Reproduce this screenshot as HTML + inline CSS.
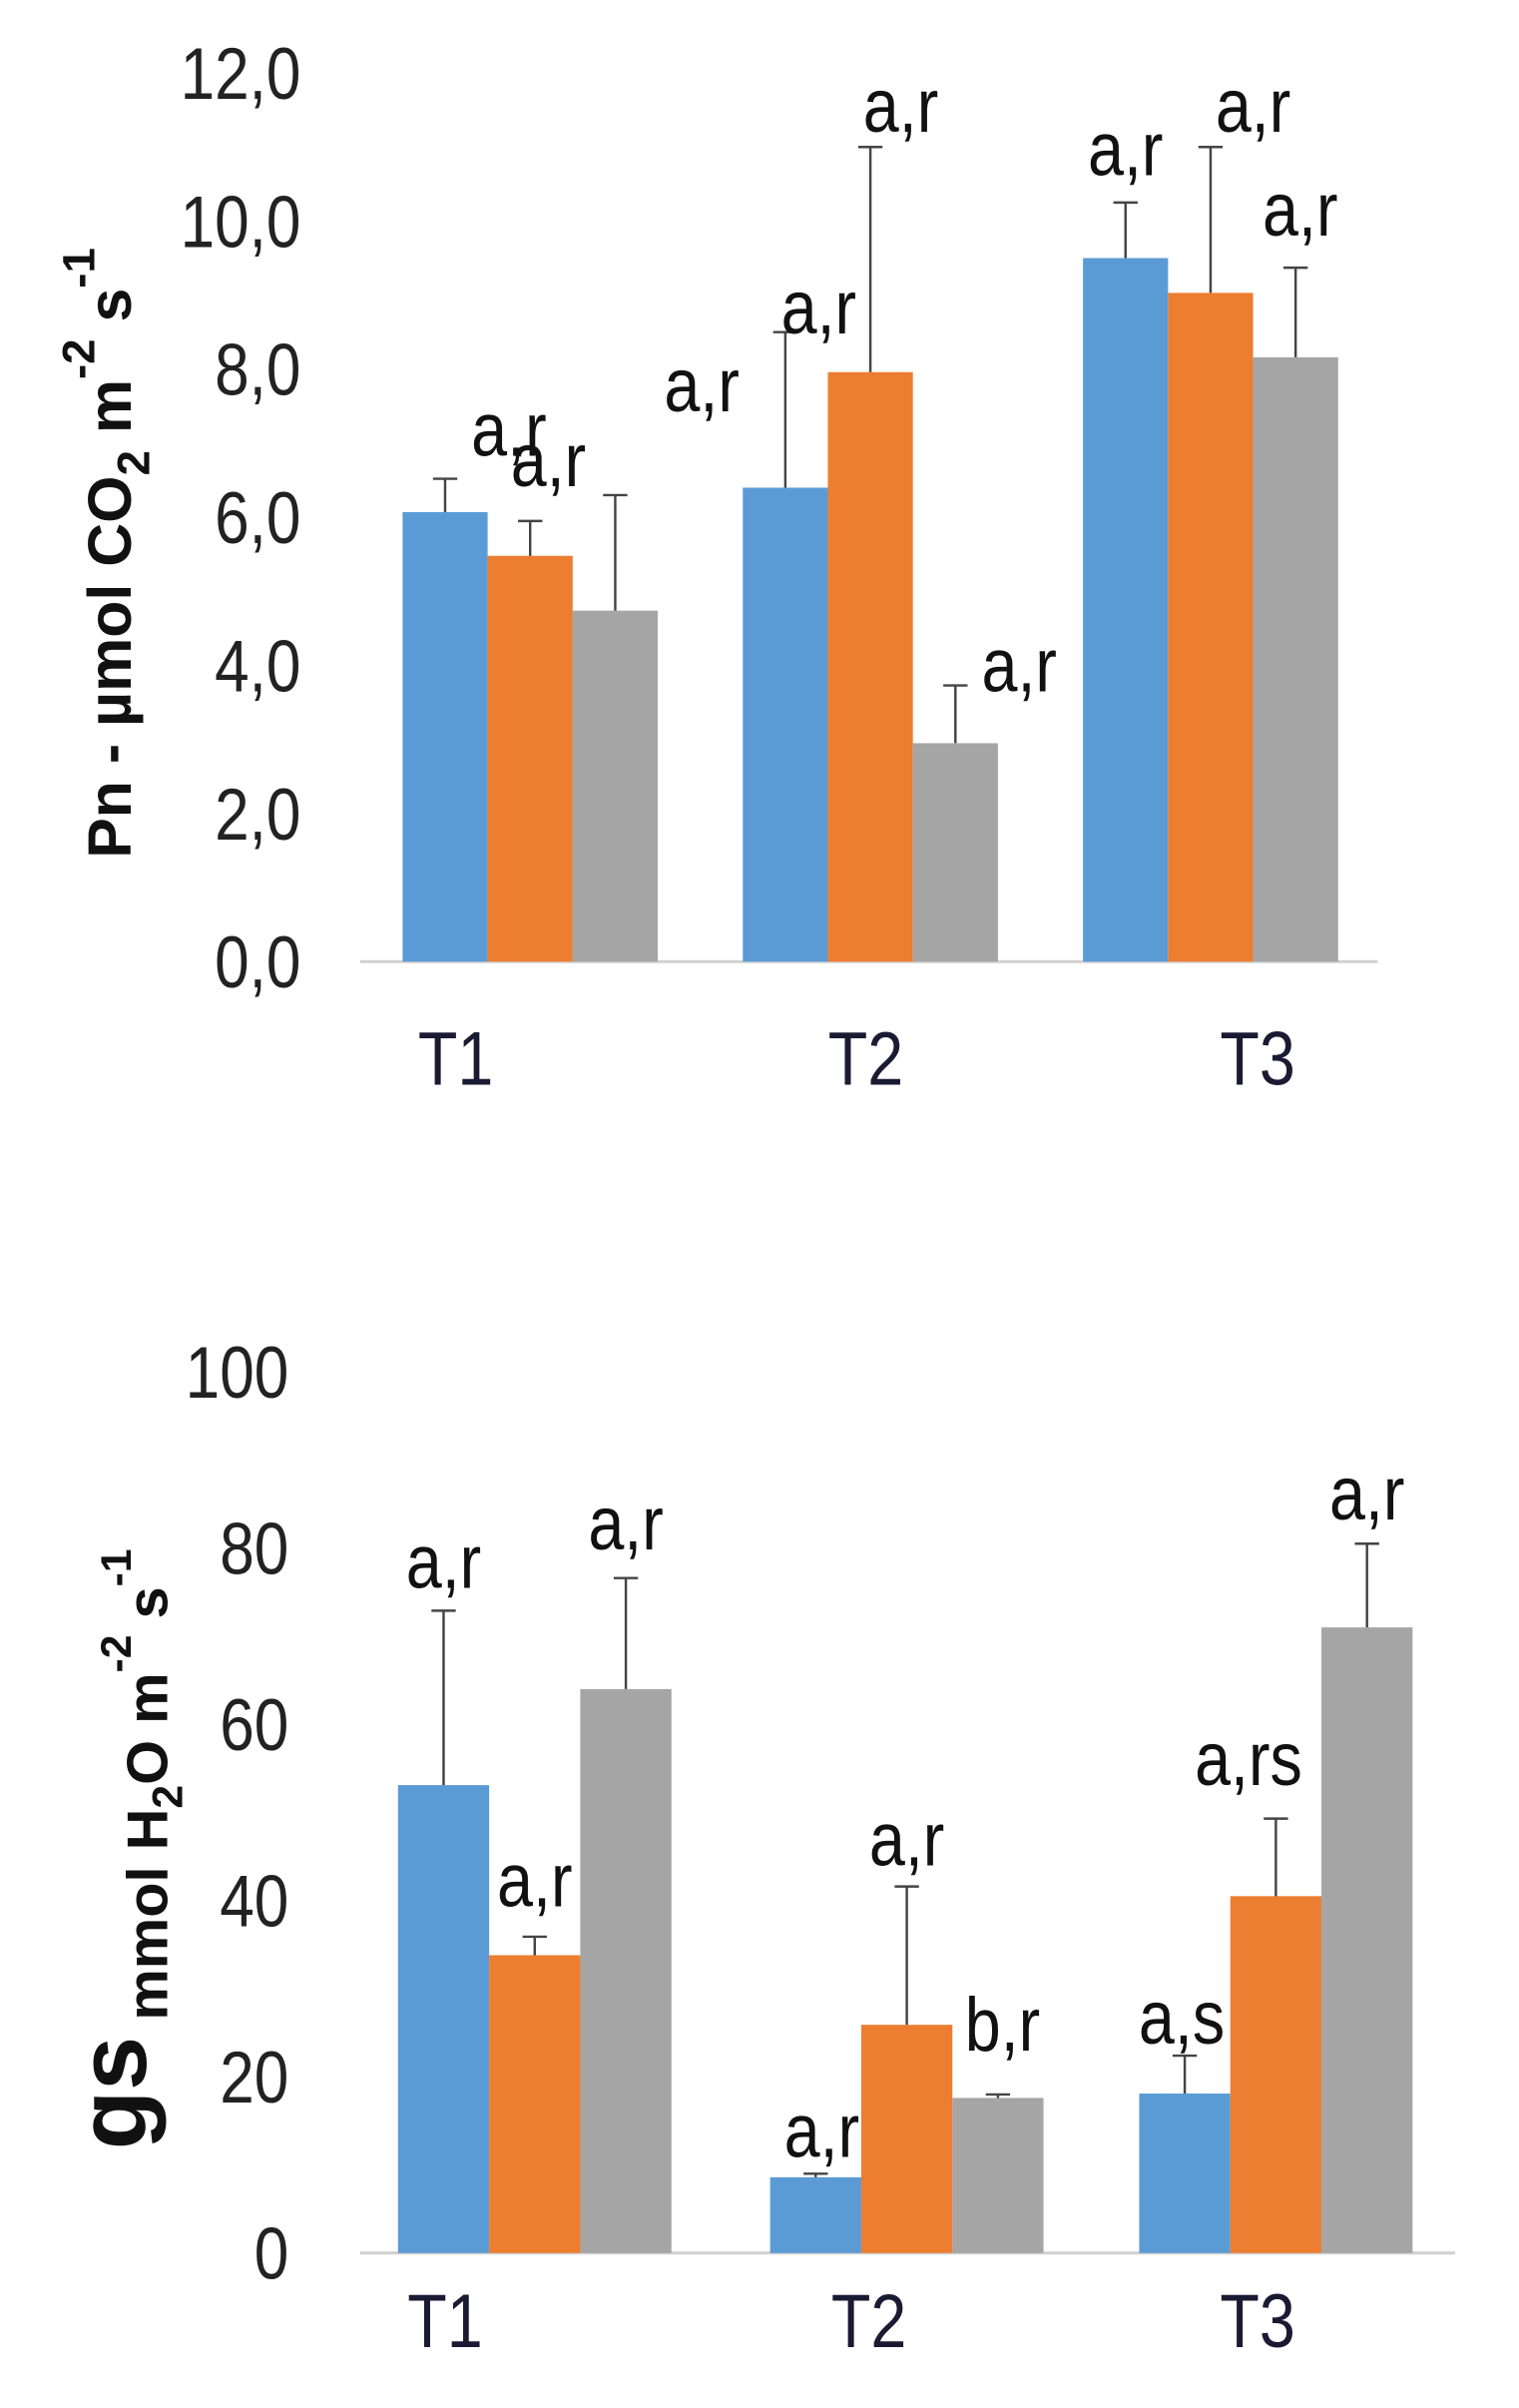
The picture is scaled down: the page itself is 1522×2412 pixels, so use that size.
<!DOCTYPE html>
<html><head><meta charset="utf-8"><style>
html,body{margin:0;padding:0;background:#fff;}
svg{display:block;font-family:"Liberation Sans",sans-serif;}
</style></head><body>
<svg id="chart" width="1522" height="2412" viewBox="0 0 1000 1585" xmlns="http://www.w3.org/2000/svg">
<g id="top"></g>
<g id="bot"></g>
<text transform="translate(86,565) rotate(-90)" font-size="40" font-weight="bold" fill="#111">Pn - µmol CO<tspan font-size="30" dy="12">2</tspan><tspan dy="-12"> m</tspan><tspan font-size="30" dy="-24">-2</tspan><tspan dy="24"> s</tspan><tspan font-size="30" dy="-24">-1</tspan></text>
<text transform="translate(96,1415) rotate(-90)" font-size="64" font-weight="bold" fill="#111">gs<tspan font-size="38" dy="14"> mmol H</tspan><tspan font-size="28" dy="10">2</tspan><tspan font-size="38" dy="-10">O m</tspan><tspan font-size="28" dy="-24">-2</tspan><tspan font-size="38" dy="24"> s</tspan><tspan font-size="28" dy="-24">-1</tspan></text>
</svg>
<script>
const categories=["T1","T2","T3"];
const colors=["#5b9bd5","#ed7d31","#a5a5a5"];
// Pn chart
const pnBlue=[6.07,6.4,9.5];
const pnOrange=[5.48,7.96,9.03];
const pnGray=[4.74,2.95,8.16];
const pnErrBlue=[0.45,2.1,0.75];
const pnErrOrange=[0.47,3.04,1.97];
const pnErrGray=[1.56,0.78,1.21];
const pnLabels=[["a,r","a,r","a,r"],["a,r","a,r","a,r"],["a,r","a,r","a,r"]];
const pnTicks=["0,0","2,0","4,0","6,0","8,0","10,0","12,0"];
const pnTickVals=[0,2,4,6,8,10,12];
// gs chart
const gsBlue=[53.1,8.6,18.1];
const gsOrange=[33.8,25.9,40.5];
const gsGray=[64,17.6,71];
const gsErrBlue=[19.8,0.4,4.3];
const gsErrOrange=[2.1,15.7,8.8];
const gsErrGray=[12.6,0.4,9.5];
const gsLabels=[["a,r","a,r","a,r"],["a,r","a,r","b,r"],["a,s","a,rs","a,r"]];
const gsTicks=["0","20","40","60","80","100"];
const gsTickVals=[0,20,40,60,80,100];

const NS="http://www.w3.org/2000/svg";
const SX=0.85;
function mk(p,tag,attrs){const e=document.createElementNS(NS,tag);for(const k in attrs)e.setAttribute(k,attrs[k]);p.appendChild(e);return e;}
function txt(p,x,y,anchor,fs,fill,s){
  const t=mk(p,"text",{x:x/SX,y:y,"text-anchor":anchor,"font-size":fs,fill:fill,transform:`scale(${SX},1)`});
  t.textContent=s;return t;
}

function draw(g,cfg){
  const y=v=>cfg.base-(v/cfg.max)*(cfg.base-cfg.top);
  const ax=mk(g,"line",{x1:cfg.axL,x2:cfg.axR,y1:cfg.base,y2:cfg.base,stroke:"#d0d0d0","stroke-width":2});
  
  
  cfg.ticks.forEach((t,i)=>{
    const tx=txt(g,cfg.tickX,y(cfg.tickVals[i])+17,"end",cfg.tickFs,"#222",t);
    
    
  });
  const series=[cfg.s[0],cfg.s[1],cfg.s[2]];
  const errs=[cfg.e[0],cfg.e[1],cfg.e[2]];
  categories.forEach((c,ci)=>{
    const gx=cfg.groupX[ci];
    for(let si=0;si<3;si++){
      const v=series[si][ci];
      const x0=gx+si*cfg.bw;
      const r=mk(g,"rect",{x:x0,y:y(v),width:cfg.bw,height:cfg.base-y(v),fill:colors[si]});
      
      
      const cx=x0+cfg.bw/2, et=y(v+errs[si][ci]);
      const el=mk(g,"path",{d:`M${cx},${y(v)}V${et}M${cx-8},${et}H${cx+8}`,stroke:"#444","stroke-width":1.6,fill:"none"});
      
      
      const off=cfg.lblOff[ci][si];
      const lt=txt(g,cx+off[0],et+off[1],"middle",cfg.lblFs,"#111",cfg.labels[ci][si]);
      
      
    }
    const cl=txt(g,cfg.catX[ci],cfg.catY,"middle",cfg.catFs,"#1a1a33",c);
    
    
  });
}
draw(document.getElementById("top"),{
  base:633,top:48,max:12,axL:237,axR:907,tickX:198,tickFs:48,ticks:pnTicks,tickVals:pnTickVals,
  s:[pnBlue,pnOrange,pnGray],e:[pnErrBlue,pnErrOrange,pnErrGray],
  groupX:[265,489,713],bw:56,labels:pnLabels,lblFs:50,
  lblOff:[[[42,-15],[12,-23],[57,-55]],[[22,1],[20,-10],[42,4]],[[0,-18],[28,-10],[3,-21]]],
  catX:[300,570,828],catY:714,catFs:50
});
draw(document.getElementById("bot"),{
  base:1483,top:903,max:100,axL:237,axR:958,tickX:190,tickFs:48,ticks:gsTicks,tickVals:gsTickVals,
  s:[gsBlue,gsOrange,gsGray],e:[gsErrBlue,gsErrOrange,gsErrGray],
  groupX:[262,507,750],bw:60,labels:gsLabels,lblFs:50,
  lblOff:[[[0,-15],[0,-20],[0,-19]],[[4,-11],[0,-14],[3,-29]],[[-2,-8],[-18,-22],[0,-16]]],
  catX:[293,572,828],catY:1545,catFs:50
});
</script>
</body></html>
